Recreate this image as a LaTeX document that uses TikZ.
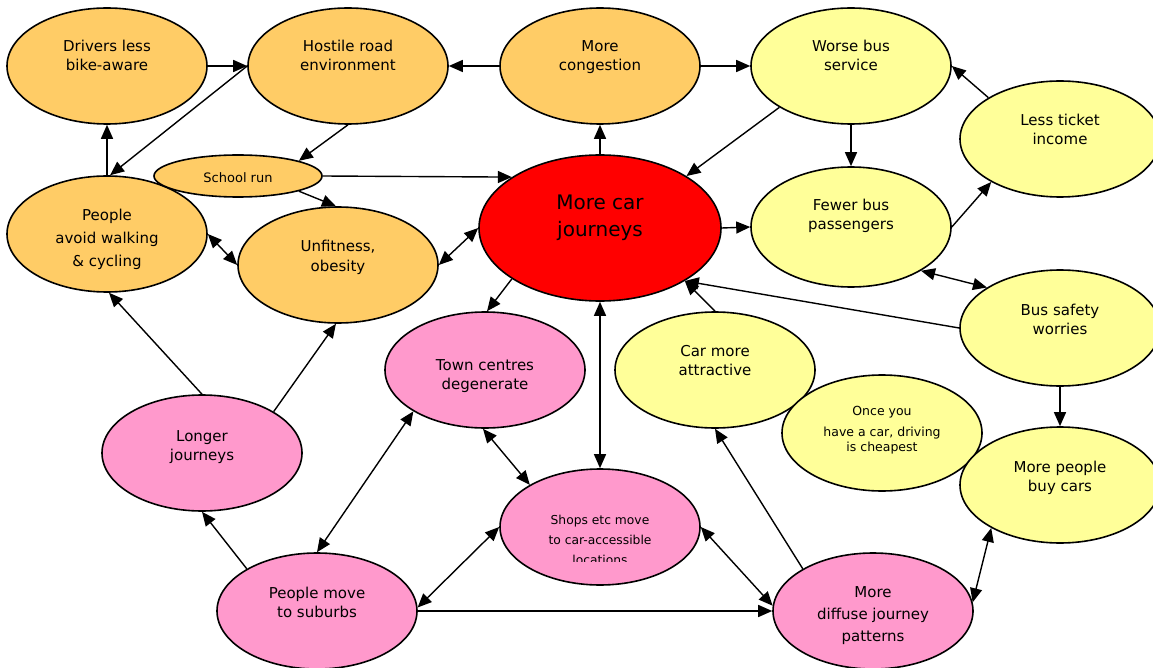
\documentclass[tikz,border=0pt]{standalone}
\usepackage{fontspec}
\setmainfont{DejaVu Sans}
\usetikzlibrary{arrows.meta,shapes.geometric,calc}
\definecolor{orng}{HTML}{FFCC66}
\definecolor{ylw}{HTML}{FFFF99}
\definecolor{pnk}{HTML}{FF99CC}
\definecolor{rd}{HTML}{FF0000}
\begin{document}
\begin{tikzpicture}[x=1pt,y=-1pt,
  ell/.style={ellipse,draw=black,line width=1.6pt,minimum width=200pt,minimum height=116pt,inner sep=0pt},
  lbl/.style={align=center,inner sep=0pt,anchor=base,font=\fontsize{15}{19}\selectfont},
  arr/.style={line width=1.4pt,-{Triangle[length=14pt,width=12pt]}},
  bi/.style={line width=1.4pt,{Triangle[length=14pt,width=12pt]}-{Triangle[length=14pt,width=12pt]}}]
\useasboundingbox (0,0) rectangle (1153,668);
% ellipses
\node[ell,fill=orng] (drv) at (107,66) {};
\node[ell,fill=orng] (hos) at (348,66) {};
\node[ell,fill=orng] (con) at (600,66) {};
\node[ell,fill=ylw] (wbs) at (851,66) {};
\node[ell,fill=ylw] (lti) at (1060,139) {};
\node[ell,fill=orng] (avd) at (107,234) {};
\node[ell,fill=orng,minimum width=168pt,minimum height=42pt] (sch) at (238,176) {};
\node[ell,fill=orng] (unf) at (338,265) {};
\node[ell,fill=rd,minimum width=242pt,minimum height=146pt] (mcj) at (600,228) {};
\node[ell,fill=ylw,minimum height=120pt] (fbp) at (851,227) {};
\node[ell,fill=ylw] (bsw) at (1060,328) {};
\node[ell,fill=pnk] (tcd) at (485,370) {};
\node[ell,fill=ylw] (cma) at (715,370) {};
\node[ell,fill=ylw] (once) at (882,433) {};
\node[ell,fill=ylw] (mpb) at (1060,485) {};
\node[ell,fill=pnk] (lj) at (202,453) {};
\node[ell,fill=pnk] (shp) at (600,527) {};
\node[ell,fill=pnk] (pms) at (317,611) {};
\node[ell,fill=pnk] (mdj) at (873,611) {};
% labels (anchor=base is the baseline of the last line)
\node[lbl] (drvT) at ($(drv.center)+(0,5)$) {Drivers less\\bike-aware};
\node[lbl] (hosT) at ($(hos.center)+(0,5)$) {Hostile road\\environment};
\node[lbl] (conT) at ($(con.center)+(0,5)$) {More\\congestion};
\node[lbl] (wbsT) at ($(wbs.center)+(0,5)$) {Worse bus\\service};
\node[lbl] (ltiT) at ($(lti.center)+(0,6)$) {Less ticket\\income};
\node[lbl,font=\fontsize{13}{16}\selectfont] (schT) at ($(sch.center)+(0,7)$) {School run};
\node[lbl,font=\fontsize{15}{23}\selectfont] (avdT) at ($(avd.center)+(0,32)$) {People\\avoid walking\\\& cycling};
\node[lbl] (unfT) at ($(unf.center)+(0,6)$) {Unfitness,\\obesity};
\node[lbl,font=\fontsize{20}{27}\selectfont] (mcjT) at ($(mcj.center)+(0,9)$) {More car\\journeys};
\node[lbl] (fbpT) at ($(fbp.center)+(0,3)$) {Fewer bus\\passengers};
\node[lbl] (bswT) at ($(bsw.center)+(0,6)$) {Bus safety\\worries};
\node[lbl] (tcdT) at ($(tcd.center)+(0,19)$) {Town centres\\degenerate};
\node[lbl] (cmaT) at ($(cma.center)+(0,5)$) {Car more\\attractive};
\node[lbl,font=\fontsize{12.5}{15}\selectfont] (onceT) at ($(once.center)+(0,18)$) {Once you\\[6pt]have a car, driving\\is cheapest};
\node[lbl] (mpbT) at ($(mpb.center)+(0,6)$) {More people\\buy cars};
\node[lbl] (ljT) at ($(lj.center)+(0,7)$) {Longer\\journeys};
\begin{scope}
\clip ($(shp.center)+(-95,-40)$) rectangle ($(shp.center)+(95,34)$);
\node[lbl,font=\fontsize{12.3}{20}\selectfont] (shpT) at ($(shp.center)+(0,37)$) {Shops etc move\\to car-accessible\\locations};
\end{scope}
\node[lbl] (pmsT) at ($(pms.center)+(0,6)$) {People move\\to suburbs};
\node[lbl,font=\fontsize{15}{22}\selectfont] (mdjT) at ($(mdj.center)+(0,30)$) {More\\diffuse journey\\patterns};
% connectors
\draw[arr] (drv.0) -- (hos.180);
\draw[arr] (hos.180) -- (avd.87);
\draw[arr] (avd.90) -- (drv.270);
\draw[arr] (hos.270) -- (sch.14);
\draw[arr] (sch.-14) -- (unf.92);
\draw[arr] (sch.0) -- (mcj.150);
\draw[bi] (avd.0) -- (unf.180);
\draw[bi] (unf.0) -- (mcj.180);
\draw[arr] (con.180) -- (hos.0);
\draw[arr] (mcj.90) -- (con.270);
\draw[arr] (con.0) -- (wbs.180);
\draw[arr] (wbs.210) -- (mcj.31);
\draw[arr] (wbs.270) -- (fbp.90);
\draw[arr] (mcj.0) -- (fbp.180);
\draw[arr] (fbp.0) -- (lti.212);
\draw[arr] (lti.150) -- (wbs.0);
\draw[bi] (fbp.-32) -- (bsw.151);
\draw[arr] (bsw.180) -- (mcj.-32);
\draw[arr] (mcj.210) -- (tcd.88);
\draw[bi] (mcj.270) -- (shp.90);
\draw[arr] (cma.90) -- (mcj.-32);
\draw[arr] (bsw.270) -- (mpb.90);
\draw[bi] (tcd.268) -- (shp.149);
\draw[bi] (tcd.210) -- (pms.90);
\draw[arr] (pms.149) -- (lj.270);
\draw[arr] (lj.90) -- (avd.272);
\draw[arr] (lj.30) -- (unf.268);
\draw[bi] (shp.180) -- (pms.2);
\draw[arr] (pms.0) -- (mdj.180);
\draw[bi] (shp.0) -- (mdj.177);
\draw[arr] (mdj.149) -- (cma.270);
\draw[bi] (mdj.5) -- (mpb.212);
\end{tikzpicture}
\end{document}
